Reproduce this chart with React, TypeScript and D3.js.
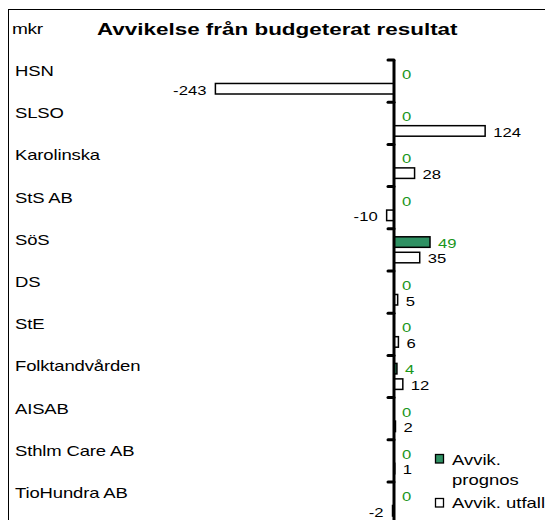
import React from "react";
import * as d3 from "d3";

const categories = ["HSN", "SLSO", "Karolinska", "StS AB", "SöS", "DS", "StE", "Folktandvården", "AISAB", "Sthlm Care AB", "TioHundra AB"];
const prognos = [0, 0, 0, 0, 49, 0, 0, 4, 0, 0, 0];
const utfall = [-243, 124, 28, -10, 35, 5, 6, 12, 2, 1, -2];
const seriesKeys = ["prognos", "utfall"];
const legendLabels = [["Avvik.", "prognos"], ["Avvik. utfall"]];

const GREEN_FILL = "#2f9163";
const GREEN_TEXT = "#1a961a";
const FONT = "'Liberation Sans', Arial, sans-serif";
const SX = 1.32;

function T(props: { x: number; y: number; sx?: number; children: React.ReactNode; [k: string]: any }) {
  const { x, y, sx = SX, children, ...rest } = props;
  return (
    <text transform={`translate(${x},${y}) scale(${sx},1)`} {...rest}>{children}</text>
  );
}

export default function App() {
  const W = 545, H = 520;
  const x0 = 394;
  const k = 0.735;
  const x = d3.scaleLinear().domain([-250, 150]).range([x0 - 250 * k, x0 + 150 * k]);
  const y = d3.scaleBand<string>().domain(categories).range([60, 60 + 11 * 42.2]);
  const inner = d3.scaleBand<string>().domain(seriesKeys).range([8, 34]).paddingInner(0.32);
  const bw = inner.bandwidth();
  const series: Record<string, number[]> = { prognos, utfall };

  return (
    <svg width={W} height={H} style={{ position: "absolute", left: 0, top: 0 }} fontFamily={FONT}>
      <rect x={0} y={0} width={W} height={H} fill="#fff" />
      <line x1={8.5} y1={9} x2={8.5} y2={H} stroke="#000" strokeWidth={1} />
      <line x1={8} y1={9.5} x2={W} y2={9.5} stroke="#000" strokeWidth={1} />
      <T x={12} y={34} fontSize={14.5} letterSpacing={-0.3}>mkr</T>
      <T x={97} y={35} fontSize={17} fontWeight="bold">Avvikelse från budgeterat resultat</T>

      {categories.map((c) => (
        <T key={c} x={15} y={(y(c) as number) + 16} fontSize={14} letterSpacing={-0.1}>{c}</T>
      ))}

      {categories.map((c, i) =>
        seriesKeys.map((s) => {
          const v = series[s][i];
          const yy = (y(c) as number) + (inner(s) as number);
          const xa = x(Math.min(0, v));
          const xb = x(Math.max(0, v));
          const isP = s === "prognos";
          return (
            <g key={c + s}>
              {v !== 0 && (
                <rect x={xa} y={yy} width={xb - xa} height={bw}
                  fill={isP ? GREEN_FILL : "#fff"} stroke="#000" strokeWidth={1.5} />
              )}
              <T
                x={v < 0 ? xa - 9 : xb + 8}
                y={yy + bw / 2 + 1}
                sx={1.28}
                textAnchor={v < 0 ? "end" : "start"}
                dominantBaseline="central"
                fontSize={13}
                fill={isP ? GREEN_TEXT : "#000"}
              >{v}</T>
            </g>
          );
        })
      )}

      <line x1={x0} y1={60} x2={x0} y2={H} stroke="#000" strokeWidth={3} />
      {categories.map((c) => (
        <line key={"t" + c} x1={x0 - 6} x2={x0} y1={y(c) as number} y2={y(c) as number}
          stroke="#000" strokeWidth={3} strokeLinecap="round" />
      ))}

      <rect x={435.5} y={454.5} width={8} height={8.5} fill={GREEN_FILL} stroke="#000" strokeWidth={1.3} />
      <T x={452} y={465} fontSize={14}>{legendLabels[0][0]}</T>
      <T x={452} y={485} fontSize={14}>{legendLabels[0][1]}</T>
      <rect x={435.5} y={498.5} width={8} height={8.5} fill="#fff" stroke="#000" strokeWidth={1.3} />
      <T x={452} y={508} fontSize={14}>{legendLabels[1][0]}</T>
    </svg>
  );
}
